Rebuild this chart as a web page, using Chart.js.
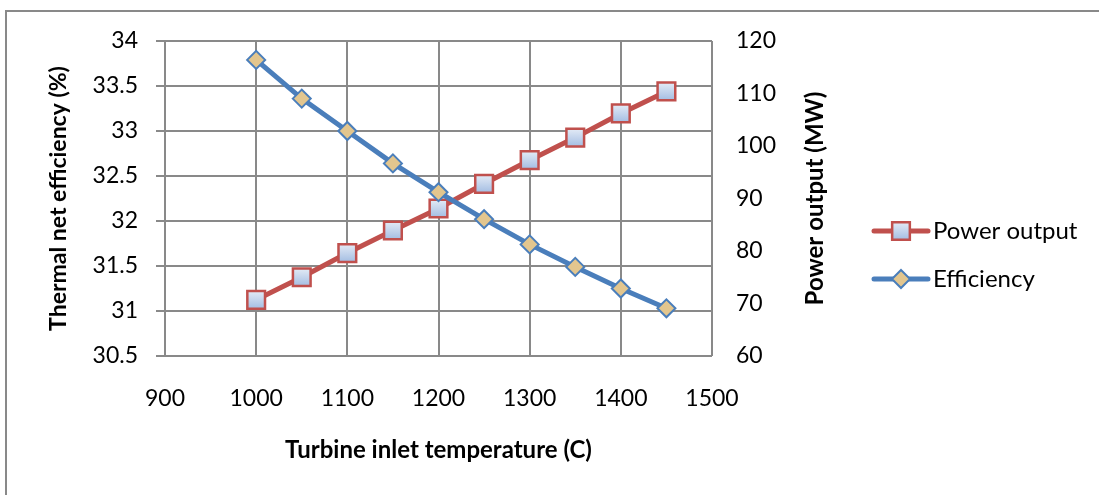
<!DOCTYPE html>
<html>
<head>
<meta charset="utf-8">
<script src="https://cdn.jsdelivr.net/npm/chart.js@4.4.0/dist/chart.umd.min.js"></script>
<style>
  html, body { margin: 0; padding: 0; background: #fff; }
  #wrap { width: 1099px; height: 495px; }
</style>
</head>
<body>
<div id="wrap"><canvas id="chart" width="1099" height="495"></canvas></div>
<script>
// values
const temperatures = [1000, 1050, 1100, 1150, 1200, 1250, 1300, 1350, 1400, 1450];
const powerOutput = [70.7, 75.0, 79.6, 83.9, 88.1, 92.8, 97.3, 101.6, 106.2, 110.4];
const efficiency = [33.79, 33.36, 33.0, 32.64, 32.32, 32.02, 31.74, 31.49, 31.25, 31.03];

const xTitle = 'Turbine inlet temperature (C)';
const yTitle = 'Thermal net efficiency (%)';
const y1Title = 'Power output (MW)';

const gridColor = '#898989';
const fontFamily = 'Lato, "Open Sans", sans-serif';
const tickSize = 23;

const toPoints = (ys) => temperatures.map((t, i) => ({ x: t, y: ys[i] }));
// plain numbers, no thousands separator, no trailing zero
const plain = (v) => String(Math.round(v * 10) / 10);

// light-blue shaded square fill, centred on the point's own pixel
function squareFill(ctx, y) {
  if (!Number.isFinite(y)) return '#C6D5EE';
  const g = ctx.createLinearGradient(0, y - 9, 0, y + 9);
  g.addColorStop(0, '#E4EBF6');
  g.addColorStop(1, '#A3BDE2');
  return g;
}

const powerFill = (c) => {
  const scale = c.chart.scales && c.chart.scales.y1;
  if (!c.parsed || !scale) return '#C6D5EE';
  return squareFill(c.chart.ctx, scale.getPixelForValue(c.parsed.y));
};

// outer frame of the chart object
const framePlugin = {
  id: 'frame',
  beforeDraw(chart) {
    const ctx = chart.ctx;
    ctx.save();
    ctx.fillStyle = '#fff';
    ctx.fillRect(0, 0, chart.width, chart.height);
    ctx.strokeStyle = gridColor;
    ctx.lineWidth = 2;
    ctx.strokeRect(6, 11, 2000, 2000);
    ctx.restore();
  }
};

// right axis title reads bottom-to-top, like the left one
const rightTitlePlugin = {
  id: 'rightTitle',
  afterDraw(chart) {
    const ctx = chart.ctx;
    const area = chart.chartArea;
    ctx.save();
    ctx.translate(815, (area.top + area.bottom) / 2);
    ctx.rotate(-Math.PI / 2);
    ctx.font = 'bold 24px ' + fontFamily;
    ctx.fillStyle = '#000';
    ctx.textAlign = 'center';
    ctx.textBaseline = 'middle';
    ctx.fillText(y1Title, 0, 0);
    ctx.restore();
  }
};

// legend with line + marker, like the spreadsheet one
const lineLegendPlugin = {
  id: 'lineLegend',
  afterDraw(chart) {
    const ctx = chart.ctx;
    const rows = [231, 279];
    ctx.save();
    chart.data.datasets.forEach((ds, i) => {
      const y = rows[i];
      ctx.strokeStyle = ds.borderColor;
      ctx.lineWidth = ds.borderWidth;
      ctx.lineCap = 'round';
      ctx.beginPath();
      ctx.moveTo(874, y);
      ctx.lineTo(928, y);
      ctx.stroke();
      ctx.fillStyle = typeof ds.pointBackgroundColor === 'function'
        ? squareFill(ctx, y) : ds.pointBackgroundColor;
      ctx.strokeStyle = ds.pointBorderColor;
      ctx.lineWidth = ds.pointBorderWidth;
      ctx.beginPath();
      if (ds.pointStyle === 'rect') {
        const s = Math.SQRT1_2 * ds.pointRadius;
        ctx.rect(901 - s, y - s, 2 * s, 2 * s);
      } else {
        const r = ds.pointRadius;
        ctx.moveTo(901, y - r);
        ctx.lineTo(901 + r, y);
        ctx.lineTo(901, y + r);
        ctx.lineTo(901 - r, y);
        ctx.closePath();
      }
      ctx.fill();
      ctx.stroke();
      ctx.fillStyle = '#000';
      ctx.font = '24px ' + fontFamily;
      ctx.textAlign = 'left';
      ctx.textBaseline = 'middle';
      ctx.fillText(ds.label, 933, y);
    });
    ctx.restore();
  }
};

function draw() {
  Chart.defaults.font.family = fontFamily;
  Chart.defaults.color = '#000';

  new Chart(document.getElementById('chart'), {
    type: 'line',
    data: {
      datasets: [
        {
          label: 'Power output',
          data: toPoints(powerOutput),
          yAxisID: 'y1',
          borderColor: '#C0504D',
          borderWidth: 5,
          pointStyle: 'rect',
          pointRadius: 12.5,
          pointBackgroundColor: powerFill,
          pointBorderColor: '#C0504D',
          pointBorderWidth: 2.5,
          order: 2
        },
        {
          label: 'Efficiency',
          data: toPoints(efficiency),
          yAxisID: 'y',
          borderColor: '#4A7EBB',
          borderWidth: 5,
          pointStyle: 'rectRot',
          pointRadius: 9,
          pointBackgroundColor: '#E3C68E',
          pointBorderColor: '#4A7EBB',
          pointBorderWidth: 2,
          order: 1
        }
      ]
    },
    options: {
      responsive: false,
      animation: false,
      devicePixelRatio: 1,
      layout: { padding: { top: 41, left: 0, right: 270, bottom: 0 } },
      plugins: {
        legend: { display: false },
        tooltip: { enabled: false }
      },
      scales: {
        x: {
          type: 'linear',
          min: 900,
          max: 1500,
          ticks: { stepSize: 100, padding: 29, font: { size: tickSize }, color: '#000', callback: plain },
          grid: { color: gridColor, lineWidth: 2, drawTicks: false },
          border: { display: false },
          title: {
            display: true,
            text: xTitle,
            font: { size: 24, weight: 'bold' },
            color: '#000',
            padding: { top: 0, bottom: 30 }
          },
          afterFit(scale) { scale.height = 139; }
        },
        y: {
          position: 'left',
          min: 30.5,
          max: 34,
          ticks: { stepSize: 0.5, padding: 18, font: { size: tickSize }, color: '#000', callback: plain },
          grid: { color: gridColor, lineWidth: 2, tickLength: 9 },
          border: { display: true, color: gridColor, width: 2 },
          title: {
            display: true,
            text: yTitle,
            font: { size: 23, weight: 'bold' },
            color: '#000',
            padding: { top: 45, bottom: 0 }
          },
          afterFit(scale) { scale.width = 165; }
        },
        y1: {
          position: 'right',
          min: 60,
          max: 120,
          ticks: { stepSize: 10, padding: 24, font: { size: tickSize }, color: '#000', callback: plain },
          grid: { drawOnChartArea: false, drawTicks: false },
          border: { display: false },
          title: { display: false, text: y1Title },
          afterFit(scale) { scale.width = 117; }
        }
      }
    },
    plugins: [framePlugin, rightTitlePlugin, lineLegendPlugin]
  });
}

if (document.fonts && document.fonts.load) {
  Promise.all([
    document.fonts.load('23px Lato'),
    document.fonts.load('bold 24px Lato')
  ]).then(draw, draw);
} else {
  draw();
}
</script>
</body>
</html>
